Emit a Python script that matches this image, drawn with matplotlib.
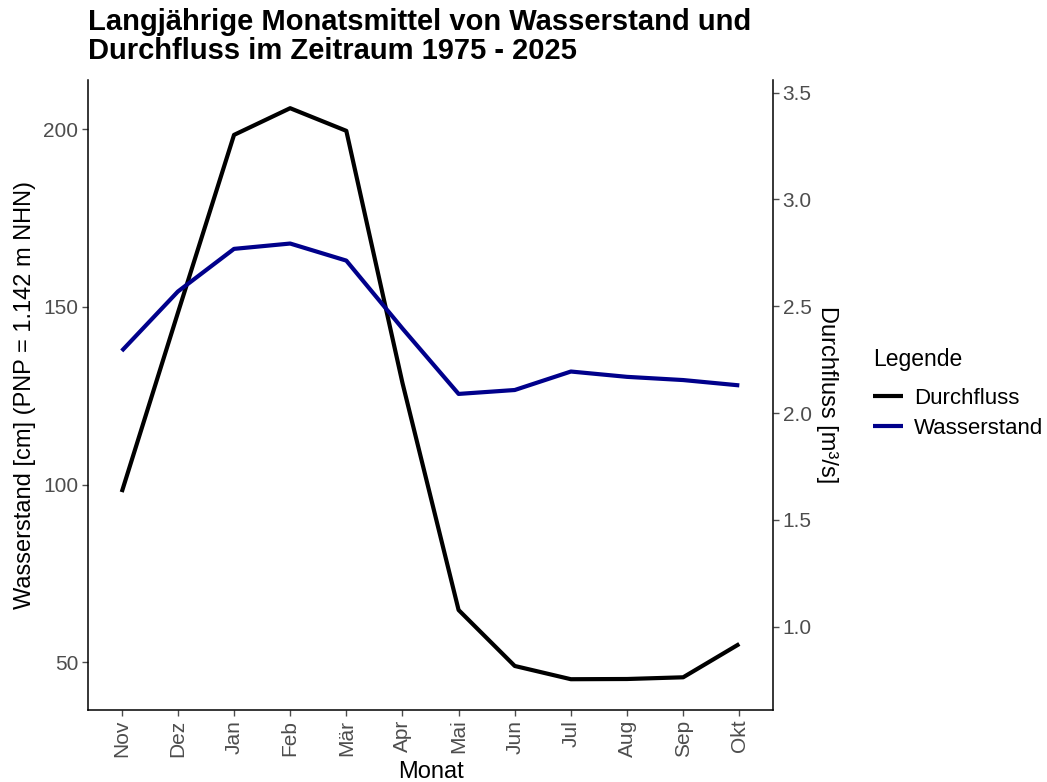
import matplotlib
matplotlib.use("Agg")
import matplotlib.pyplot as plt
import numpy as np

plt.rcParams['font.family'] = ['Liberation Sans', 'DejaVu Sans']

monate = ["Nov", "Dez", "Jan", "Feb", "Mär", "Apr", "Mai", "Jun", "Jul", "Aug", "Sep", "Okt"]
wasserstand = [137.6, 154.3, 166.3, 167.8, 163.0, 143.9, 125.5, 126.6, 131.8, 130.3, 129.4, 127.9]
durchfluss = [1.630, 2.469, 3.302, 3.427, 3.321, 2.141, 1.078, 0.816, 0.754, 0.755, 0.763, 0.919]

left_ticks = [50, 100, 150, 200]
right_ticks = [1.0, 1.5, 2.0, 2.5, 3.0, 3.5]

grey = "#4D4D4D"
x = np.arange(len(monate))

fig = plt.figure(figsize=(10.47, 7.82), dpi=100)
ax = fig.add_axes([0.0841, 0.0921, 0.6542, 0.8056])
ax2 = ax.twinx()

l1, = ax2.plot(x, durchfluss, color="black", lw=3, label="Durchfluss", solid_capstyle="butt")
l2, = ax.plot(x, wasserstand, color="#00008B", lw=3, label="Wasserstand", solid_capstyle="butt")
ax.set_zorder(ax2.get_zorder() + 1)
ax.patch.set_visible(False)

ax.set_xlim(-0.6, 11.6)
ax.set_ylim(36.6, 213.8)
ax2.set_ylim(0.610, 3.559)

ax.set_xticks(x)
ax.set_xticklabels(monate, rotation=90)
ax.set_yticks(left_ticks)
ax2.set_yticks(right_ticks)
ax2.set_yticklabels([f"{v:.1f}" for v in right_ticks])

for a in (ax, ax2):
    a.spines["top"].set_visible(False)
    for s in ("left", "right", "bottom"):
        a.spines[s].set_linewidth(1.1)
        a.spines[s].set_color("black")
    a.tick_params(axis="both", colors=grey, labelsize=15, length=4, width=1.0,
                  labelcolor=grey, pad=3)
ax2.spines["left"].set_visible(False)
ax.spines["right"].set_visible(False)
ax2.spines["bottom"].set_visible(False)

ax.set_xlabel("Monat", fontsize=17, labelpad=3)
ax.set_ylabel("Wasserstand [cm] (PNP = 1.142 m NHN)", fontsize=17, labelpad=5)
ax2.set_ylabel("Durchfluss [m³/s]", fontsize=17, rotation=270, va="bottom", labelpad=3)

fig.text(0.0841, 0.99, "Langjährige Monatsmittel von Wasserstand und\nDurchfluss im Zeitraum 1975 - 2025",
         fontsize=21, fontweight="bold", va="top", ha="left", linespacing=1.05)

leg = fig.legend(handles=[l1, l2], title="Legende", loc="center left",
                 bbox_to_anchor=(0.8192, 0.497), frameon=False, fontsize=16,
                 title_fontsize=16.5, handlelength=1.35, handletextpad=0.5,
                 labelspacing=0.42, borderaxespad=0.3)
leg._legend_box.align = "left"
leg._legend_box.sep = 12

fig.savefig("out.png", dpi=100)
